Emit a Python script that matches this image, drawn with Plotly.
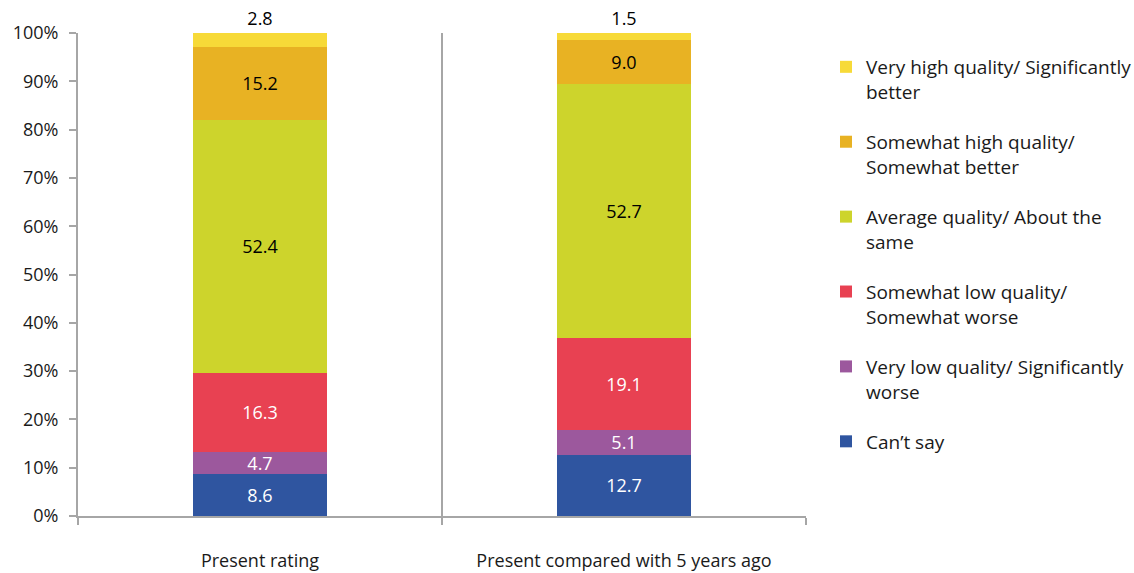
import plotly.graph_objects as go

categories = ["Present rating", "Present compared with 5 years ago"]

series_names = [
    "Can\u2019t say",
    "Very low quality/ Significantly<br>worse",
    "Somewhat low quality/<br>Somewhat worse",
    "Average quality/ About the<br>same",
    "Somewhat high quality/<br>Somewhat better",
    "Very high quality/ Significantly<br>better",
]
cant_say = [8.6, 12.7]
very_low = [4.7, 5.1]
somewhat_low = [16.3, 19.1]
average = [52.4, 52.7]
somewhat_high = [15.2, 9.0]
very_high = [2.8, 1.5]
series_values = [cant_say, very_low, somewhat_low, average, somewhat_high, very_high]

colors = ["#2F55A0", "#9C589D", "#E84152", "#CDD42C", "#E8B223", "#F7DA38"]
label_colors = ["white", "white", "white", "black", "black", "black"]

FONT = "Open Sans"
FS = 18

fig = go.Figure()
n = len(series_names)
for i, (name, vals) in enumerate(zip(series_names, series_values)):
    top = i == n - 1
    fig.add_trace(go.Bar(
        x=categories,
        y=vals,
        name=name,
        legendgroup=f"g{i}",
        legendrank=n - i,
        marker=dict(color=colors[i], line=dict(width=0)),
        width=0.37,
        text=[f"{v:.1f}" for v in vals],
        texttemplate="%{text}",
        textposition="outside" if top else "inside",
        insidetextanchor="middle",
        textangle=0,
        textfont=dict(family=FONT, size=FS, color=label_colors[i]),
        cliponaxis=False,
        hoverinfo="skip",
    ))

fig.update_layout(
    barmode="stack",
    barnorm="percent",
    width=1134,
    height=573,
    margin=dict(l=78, r=328, t=33, b=57, autoexpand=False),
    paper_bgcolor="white",
    plot_bgcolor="white",
    font=dict(family=FONT, size=FS, color="#1a1a1a"),
    uniformtext=dict(minsize=FS, mode="show"),
    showlegend=True,
    legend=dict(
        x=(826 - 78) / 728, xanchor="left", xref="paper",
        y=0.969, yanchor="top",
        traceorder="grouped",
        tracegroupgap=22.5,
        valign="top",
        font=dict(family=FONT, size=19, color="#1a1a1a"),
        itemwidth=30,
    ),
    xaxis=dict(
        type="category",
        automargin=False,
        showline=True, linecolor="#A6A6A6", linewidth=2,
        showgrid=True, gridcolor="#A6A6A6", gridwidth=2,
        tickson="boundaries",
        ticks="outside", ticklen=7, tickcolor="#A6A6A6", tickwidth=2,
        ticklabelstandoff=27,
        tickfont=dict(family=FONT, size=FS, color="#1a1a1a"),
        range=[-0.5, 1.5],
    ),
    yaxis=dict(
        automargin=False,
        range=[0, 100],
        dtick=10,
        ticksuffix="%",
        showgrid=False,
        zeroline=False,
        showline=True, linecolor="#A6A6A6", linewidth=2,
        ticks="outside", ticklen=7, tickcolor="#A6A6A6", tickwidth=2,
        ticklabelstandoff=7,
        tickfont=dict(family=FONT, size=FS, color="#1a1a1a"),
    ),
)

fig.write_html("out.html")
